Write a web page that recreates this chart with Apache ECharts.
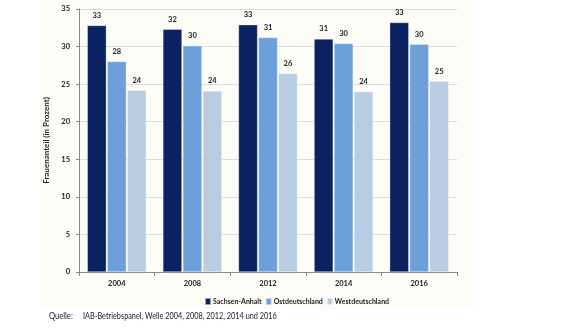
<!DOCTYPE html>
<html><head><meta charset="utf-8">
<script src="https://cdn.jsdelivr.net/npm/echarts@6/dist/echarts.min.js"></script>
<style>html,body{margin:0;padding:0;background:#fff}#c{width:580px;height:328px}</style>
</head><body><div id="c"></div>
<script>
const categories = ['2004','2008','2012','2014','2016'];
const sachsenAnhalt = [32.8, 32.3, 32.9, 31.0, 33.2];
const ostdeutschland = [28.0, 30.1, 31.2, 30.4, 30.3];
const westdeutschland = [24.2, 24.1, 26.4, 24.0, 25.4];
const yTicks = [0,5,10,15,20,25,30,35];
const seriesNames = ['Sachsen-Anhalt','Ostdeutschland','Westdeutschland'];
const colors = ['#0b2260','#6d9fda','#b9cce4'];

const font = 'Lato, "Open Sans", sans-serif';
const chart = echarts.init(document.getElementById('c'), null, {renderer:'canvas'});
function mk(name, data, color){
  return {
    name, type:'bar', data,
    barGap:'5%', barCategoryGap:'22%',
    itemStyle:{color, borderColor:'rgba(255,255,255,0.6)', borderWidth:0.5},
    label:{show:true, position:'top', distance:6, fontFamily:font, fontWeight:'bold', fontSize:7.5, color:'#222',
      formatter:p=>Math.round(p.value)}
  };
}
chart.setOption({
  backgroundColor:'#ffffff',
  animation:false,
  graphic:[
    {type:'rect', z:-10, shape:{x:40,y:0,width:433,height:310}, style:{fill:'#fdfdf7'}},
    {type:'text', x:49, y:316, scaleX:0.8, style:{text:'Quelle:', font:'9.5px '+font, fill:'#222', verticalAlign:'middle'}},
    {type:'text', x:83, y:316, scaleX:0.77, style:{text:'IAB-Betriebspanel, Welle 2004, 2008, 2012, 2014 und 2016', font:'9.5px '+font, fill:'#222', verticalAlign:'middle'}}
  ],
  grid:{left:79, right:123, top:9, bottom:56},
  legend:{
    top:292, left:199, itemWidth:6, itemHeight:7, itemGap:3, icon:'rect',
    textStyle:{fontFamily:font, fontWeight:'bold', fontSize:7, color:'#222', padding:[0,0,0,-3]},
    data:seriesNames
  },
  xAxis:{
    type:'category', data:categories,
    axisLine:{lineStyle:{color:'#888'}},
    axisTick:{show:true, alignWithLabel:false, lineStyle:{color:'#888'}, length:4},
    axisLabel:{fontFamily:font, fontWeight:'bold', fontSize:7.5, color:'#222', margin:8}
  },
  yAxis:{
    type:'value', min:0, max:35, interval:5,
    name:'Frauenanteil (in Prozent)', nameLocation:'middle', nameGap:24,
    nameTextStyle:{fontFamily:font, fontWeight:'bold', fontSize:8, color:'#222'},
    axisLine:{show:true, lineStyle:{color:'#888'}},
    axisTick:{show:true, length:3, lineStyle:{color:'#888'}},
    axisLabel:{fontFamily:font, fontWeight:'bold', fontSize:7.5, color:'#222', margin:9,
      formatter:v=>yTicks.includes(v)?String(v):''},
    splitLine:{lineStyle:{color:'#dcdcdc'}}
  },
  series:[mk(seriesNames[0],sachsenAnhalt,colors[0]), mk(seriesNames[1],ostdeutschland,colors[1]), mk(seriesNames[2],westdeutschland,colors[2])]
});
</script></body></html>
